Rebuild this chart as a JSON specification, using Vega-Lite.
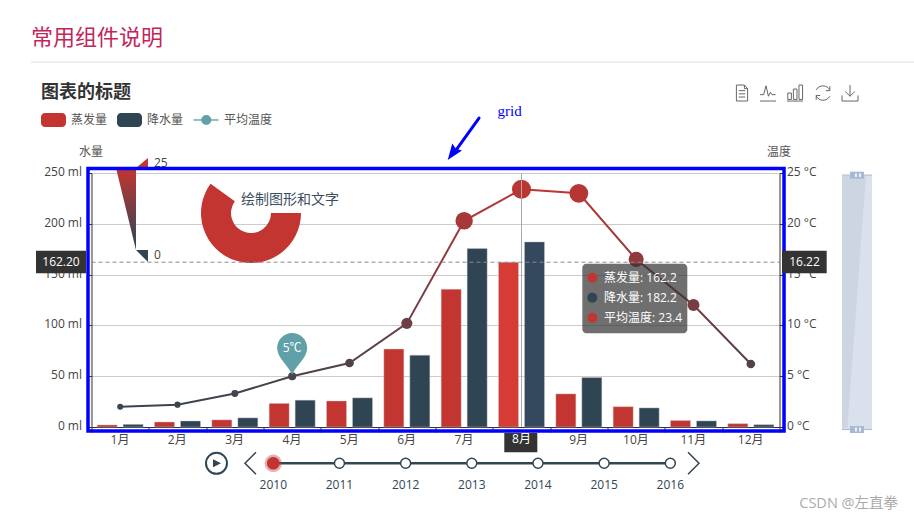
{
  "$schema": "https://vega.github.io/schema/vega-lite/v6.json",
  "autosize": {"type": "none"},
  "width": 688,
  "height": 254,
  "padding": {"left": 91.5, "top": 173, "right": 134.5, "bottom": 93},
  "background": "white",
  "config": {"font": "Open Sans, Noto Sans CJK SC", "view": {"stroke": null}},
  "datasets": {
    "water": [
      {"month": "1月", "series": "蒸发量", "value": 2.0}, {"month": "1月", "series": "降水量", "value": 2.6},
      {"month": "2月", "series": "蒸发量", "value": 4.9}, {"month": "2月", "series": "降水量", "value": 5.9},
      {"month": "3月", "series": "蒸发量", "value": 7.0}, {"month": "3月", "series": "降水量", "value": 9.0},
      {"month": "4月", "series": "蒸发量", "value": 23.2}, {"month": "4月", "series": "降水量", "value": 26.4},
      {"month": "5月", "series": "蒸发量", "value": 25.6}, {"month": "5月", "series": "降水量", "value": 28.7},
      {"month": "6月", "series": "蒸发量", "value": 76.7}, {"month": "6月", "series": "降水量", "value": 70.7},
      {"month": "7月", "series": "蒸发量", "value": 135.6}, {"month": "7月", "series": "降水量", "value": 175.6},
      {"month": "8月", "series": "蒸发量", "value": 162.2}, {"month": "8月", "series": "降水量", "value": 182.2},
      {"month": "9月", "series": "蒸发量", "value": 32.6}, {"month": "9月", "series": "降水量", "value": 48.7},
      {"month": "10月", "series": "蒸发量", "value": 20.0}, {"month": "10月", "series": "降水量", "value": 18.8},
      {"month": "11月", "series": "蒸发量", "value": 6.4}, {"month": "11月", "series": "降水量", "value": 6.0},
      {"month": "12月", "series": "蒸发量", "value": 3.3}, {"month": "12月", "series": "降水量", "value": 2.3}
    ],
    "temperature": [
      {"month": "1月", "temp": 2.0}, {"month": "2月", "temp": 2.2}, {"month": "3月", "temp": 3.3},
      {"month": "4月", "temp": 5.0}, {"month": "5月", "temp": 6.3}, {"month": "6月", "temp": 10.2},
      {"month": "7月", "temp": 20.3}, {"month": "8月", "temp": 23.4}, {"month": "9月", "temp": 23.0},
      {"month": "10月", "temp": 16.5}, {"month": "11月", "temp": 12.0}, {"month": "12月", "temp": 6.2}
    ],
    "years": [
      {"year": 2010}, {"year": 2011}, {"year": 2012}, {"year": 2013}, {"year": 2014}, {"year": 2015}, {"year": 2016}
    ]
  },
  "layer": [
    {
      "data": {"name": "water"},
      "mark": {"type": "bar", "stroke": "#ccc", "strokeOpacity": 0.6, "strokeWidth": 0.7},
      "encoding": {
        "x": {
          "field": "month", "type": "nominal", "sort": null,
          "scale": {"domain": ["1月", "2月", "3月", "4月", "5月", "6月", "7月", "8月", "9月", "10月", "11月", "12月"], "paddingInner": 0, "paddingOuter": 0},
          "axis": {"title": null, "labelAngle": 0, "labelFontSize": 12, "labelColor": "#444", "labelPadding": 2, "labelOffset": -0.7, "tickBand": "extent", "tickColor": "#333", "domainColor": "#333", "grid": false, "labelOverlap": false}
        },
        "xOffset": {"field": "series", "type": "nominal", "scale": {"domain": ["蒸发量", "降水量"], "paddingInner": 0.23, "paddingOuter": 0.218}},
        "y": {
          "field": "value", "type": "quantitative",
          "scale": {"domain": [0, 250], "nice": false},
          "axis": {
            "values": [0, 50, 100, 150, 200, 250], "labelExpr": "datum.label + ' ml'", "labelFontSize": 12, "labelColor": "#444", "labelPadding": 5, "labelOffset": -1.5,
            "grid": true, "gridColor": "#ccc", "tickColor": "#333", "domainColor": "#333",
            "title": "水量", "titleAngle": 0, "titleAlign": "center", "titleBaseline": "middle", "titleX": -1, "titleY": -22, "titleFontSize": 12, "titleFontWeight": "normal", "titleColor": "#555"
          }
        },
        "color": {
          "condition": [
            {"test": "datum.month === '8月' && datum.series === '蒸发量'", "value": "#d63b35"},
            {"test": "datum.month === '8月' && datum.series === '降水量'", "value": "#34495e"}
          ],
          "field": "series", "type": "nominal",
          "scale": {"domain": ["蒸发量", "降水量"], "range": ["#c23531", "#2f4554"]},
          "legend": null
        }
      }
    },
    {
      "data": {"name": "temperature"},
      "encoding": {
        "x": {"field": "month", "type": "nominal", "sort": null, "axis": null, "scale": {"domain": ["1月", "2月", "3月", "4月", "5月", "6月", "7月", "8月", "9月", "10月", "11月", "12月"], "paddingInner": 0, "paddingOuter": 0}},
        "y": {
          "field": "temp", "type": "quantitative",
          "scale": {"domain": [0, 25], "nice": false},
          "axis": {
            "orient": "right", "values": [0, 5, 10, 15, 20, 25], "labelExpr": "datum.label + ' °C'", "labelFontSize": 12, "labelColor": "#444", "labelPadding": 2, "labelOffset": -1.5,
            "grid": false, "tickColor": "#333", "domainColor": "#333",
            "title": "温度", "titleAngle": 0, "titleAlign": "center", "titleBaseline": "middle", "titleX": -1, "titleY": -22, "titleFontSize": 12, "titleFontWeight": "normal", "titleColor": "#555"
          }
        }
      },
      "layer": [
        {
          "mark": {
            "type": "line", "strokeWidth": 2,
            "color": {"gradient": "linear", "x1": 0, "y1": 1, "x2": 0, "y2": 0, "stops": [{"offset": 0, "color": "#3b4451"}, {"offset": 1, "color": "#b93634"}]}
          }
        },
        {
          "mark": {"type": "point", "filled": true, "opacity": 1},
          "encoding": {
            "color": {"field": "temp", "type": "quantitative", "scale": {"domain": [0, 25], "range": ["#2f4554", "#c23531"], "interpolate": "rgb"}, "legend": null},
            "size": {"field": "temp", "type": "quantitative", "scale": {"domain": [2, 6.3, 12, 23.4], "range": [36, 76, 144, 361]}, "legend": null}
          }
        }
      ]
    },
    {
      "encoding": {
        "x": {"field": "m", "type": "quantitative", "axis": null, "scale": {"domain": [0.5, 12.5], "nice": false, "zero": false}},
        "y": {"field": "ml", "type": "quantitative", "axis": null, "scale": {"domain": [0, 250], "nice": false, "zero": false}}
      },
      "layer": [
        {
          "data": {"values": [{"m": -0.555, "ml": 382.9, "t": "常用组件说明"}]},
          "mark": {"type": "text", "align": "left", "fontSize": 22, "color": "#c2255c"},
          "encoding": {"text": {"field": "t"}}
        },
        {
          "data": {"values": [{"m": -0.555, "m2": 14.846, "ml": 359.2}]},
          "mark": {"type": "rule", "color": "#ddd", "strokeWidth": 1},
          "encoding": {"x2": {"field": "m2"}}
        },
        {
          "data": {"values": [{"m": -0.381, "ml": 329.2, "t": "图表的标题"}]},
          "mark": {"type": "text", "align": "left", "fontSize": 18, "fontWeight": "bold", "color": "#333"},
          "encoding": {"text": {"field": "t"}}
        },
        {
          "data": {"values": [{"m": -0.381, "m2": 0.055, "ml": 309.1, "ml2": 295.3}]},
          "mark": {"type": "rect", "color": "#c23531", "cornerRadius": 4},
          "encoding": {"x2": {"field": "m2"}, "y2": {"field": "ml2"}}
        },
        {
          "data": {"values": [{"m": 0.945, "m2": 1.381, "ml": 309.1, "ml2": 295.3}]},
          "mark": {"type": "rect", "color": "#2f4554", "cornerRadius": 4},
          "encoding": {"x2": {"field": "m2"}, "y2": {"field": "ml2"}}
        },
        {
          "data": {"values": [{"m": 2.279, "m2": 2.715, "ml": 302.2}]},
          "mark": {"type": "rule", "color": "#61a0a8", "opacity": 0.7, "strokeWidth": 2},
          "encoding": {"x2": {"field": "m2"}}
        },
        {
          "data": {"values": [{"m": 2.502, "ml": 302.2}]},
          "mark": {"type": "point", "filled": true, "opacity": 1, "color": "#61a0a8", "size": 100}
        },
        {
          "data": {"values": [
            {"m": 0.142, "ml": 302.2, "t": "蒸发量"},
            {"m": 1.468, "ml": 302.2, "t": "降水量"},
            {"m": 2.811, "ml": 302.2, "t": "平均温度"}
          ]},
          "mark": {"type": "text", "align": "left", "fontSize": 12, "color": "#555"},
          "encoding": {"text": {"field": "t"}}
        },
        {
          "data": {"values": [
            {"icon": "dataview", "m": 11.846, "ml": 328.7},
            {"icon": "line", "m": 12.3, "ml": 328.7},
            {"icon": "bar", "m": 12.77, "ml": 328.7},
            {"icon": "restore", "m": 13.259, "ml": 328.7},
            {"icon": "save", "m": 13.73, "ml": 328.7}
          ]},
          "mark": {"type": "point", "filled": false, "opacity": 1, "stroke": "#666", "strokeWidth": 1, "size": 256},
          "encoding": {
            "shape": {
              "field": "icon", "type": "nominal", "legend": null,
              "scale": {
                "domain": ["dataview", "line", "bar", "restore", "save"],
                "range": [
                  "M-.7 -1H.3L.7 -.55V1H-.7Z M.3 -1V-.55H.7 M-.4 -.3H.4 M-.4 .1H.4 M-.4 .5H.4",
                  "M-1 .2H-.55L-.25 -.9L.05 .4L.3 -.1L.5 .2H.95 M-1 1H1",
                  "M-.9 0H-.45V.8H-.9Z M-.2 -.5H.25V.8H-.2Z M.5 -1H.95V.8H.5Z M-1 1H1",
                  "M.85 -.35A.95 .95 0 0 0 -.85 -.4 M-.85 .35A.95 .95 0 0 0 .85 .4 M.85 -.85V-.3H.35 M-.85 .85V.3H-.35",
                  "M0 -1V.4 M-.6 -.2L0 .4L.6 -.2 M-1 .3V1H1V.3"
                ]
              }
            }
          }
        },
        {
          "data": {"values": [{"m": 7.581, "ml": 311.0, "t": "grid"}]},
          "mark": {"type": "text", "align": "left", "font": "Liberation Serif", "fontSize": 15, "color": "#0000ff"},
          "encoding": {"text": {"field": "t"}}
        },
        {
          "data": {"values": [{"m": 7.259, "m2": 6.858, "ml": 304.1, "ml2": 272.6}]},
          "mark": {"type": "rule", "color": "#0000ff", "strokeWidth": 3, "strokeCap": "round"},
          "encoding": {"x2": {"field": "m2"}, "y2": {"field": "ml2"}}
        },
        {
          "data": {"values": [{"m": 6.795, "ml": 269.2}]},
          "mark": {"type": "point", "filled": true, "opacity": 1, "color": "#0000ff", "size": 256, "angle": 216, "shape": "M0 -1L.75 1L0 .75L-.75 1Z"}
        },
        {
          "data": {"values": [{"m": 3.282, "ml": 210.6}]},
          "mark": {"type": "arc", "innerRadius": 20, "outerRadius": 50, "theta": 1.5708, "theta2": 5.34, "color": "#c23531"}
        },
        {
          "data": {"values": [{"m": 3.108, "ml": 223.1, "t": "绘制图形和文字"}]},
          "mark": {"type": "text", "align": "left", "fontSize": 14, "color": "#3a4e5e"},
          "encoding": {"text": {"field": "t"}}
        },
        {
          "data": {"values": [
            {"m": 1.485, "m2": 1.485, "ml": 264.8},
            {"m": 1.276, "m2": 1.485, "ml": 254.95},
            {"m": 0.927, "m2": 1.276, "ml": 254.9},
            {"m": 1.276, "m2": 1.276, "ml": 174.25},
            {"m": 1.276, "m2": 1.485, "ml": 174.2},
            {"m": 1.485, "m2": 1.485, "ml": 162.4}
          ]},
          "mark": {
            "type": "area", "orient": "horizontal", "interpolate": "linear",
            "color": {"gradient": "linear", "x1": 0, "y1": 0, "x2": 0, "y2": 1, "stops": [{"offset": 0.1, "color": "#c23531"}, {"offset": 0.85, "color": "#2f4554"}]}
          },
          "encoding": {"x2": {"field": "m2"}}
        },
        {
          "data": {"values": [{"m": 1.59, "ml": 260.3, "t": "25"}, {"m": 1.59, "ml": 169.6, "t": "0"}]},
          "mark": {"type": "text", "align": "left", "fontSize": 12, "color": "#444"},
          "encoding": {"text": {"field": "t"}}
        },
        {
          "data": {"values": [{"m": 8, "ml": 0, "ml2": 250}]},
          "mark": {"type": "rule", "color": "#aaa", "strokeWidth": 1},
          "encoding": {"y2": {"field": "ml2"}}
        },
        {
          "data": {"values": [{"m": 0.5, "m2": 12.5, "ml": 162.2}]},
          "mark": {"type": "rule", "color": "#888", "strokeWidth": 1, "strokeDash": [4, 3]},
          "encoding": {"x2": {"field": "m2"}}
        },
        {
          "data": {"values": [{"m": 0.439, "m2": 12.579, "ml": 254.4, "ml2": -3.9}]},
          "mark": {"type": "rect", "filled": false, "stroke": "#0000ff", "strokeWidth": 3.5},
          "encoding": {"x2": {"field": "m2"}, "y2": {"field": "ml2"}}
        },
        {
          "data": {"values": [
            {"m": 7.7, "m2": 8.276, "ml": -5.9, "ml2": -24.9},
            {"m": -0.468, "m2": 0.404, "ml": 173.5, "ml2": 151.3},
            {"m": 12.544, "m2": 13.323, "ml": 173.5, "ml2": 151.3}
          ]},
          "mark": {"type": "rect", "color": "#333"},
          "encoding": {"x2": {"field": "m2"}, "y2": {"field": "ml2"}}
        },
        {
          "data": {"values": [
            {"m": 8, "ml": -12.1, "t": "8月"},
            {"m": -0.032, "ml": 162.4, "t": "162.20"},
            {"m": 12.936, "ml": 162.4, "t": "16.22"}
          ]},
          "mark": {"type": "text", "fontSize": 12, "color": "white"},
          "encoding": {"text": {"field": "t"}}
        },
        {
          "data": {"values": [{"m": 9.061, "m2": 10.892, "ml": 160.7, "ml2": 92.2}]},
          "mark": {"type": "rect", "color": "#323232", "fillOpacity": 0.7, "cornerRadius": 4},
          "encoding": {"x2": {"field": "m2"}, "y2": {"field": "ml2"}}
        },
        {
          "data": {"values": [
            {"m": 9.235, "ml": 146.9, "series": "蒸发量"},
            {"m": 9.235, "ml": 127.3, "series": "降水量"},
            {"m": 9.235, "ml": 107.6, "series": "平均温度"}
          ]},
          "mark": {"type": "point", "filled": true, "opacity": 1, "size": 100},
          "encoding": {"color": {"field": "series", "type": "nominal", "scale": {"domain": ["蒸发量", "降水量", "平均温度"], "range": ["#c23531", "#2f4554", "#c23531"]}, "legend": null}}
        },
        {
          "data": {"values": [
            {"m": 9.439, "ml": 146.4, "t": "蒸发量: 162.2"},
            {"m": 9.439, "ml": 126.8, "t": "降水量: 182.2"},
            {"m": 9.439, "ml": 107.1, "t": "平均温度: 23.4"}
          ]},
          "mark": {"type": "text", "align": "left", "fontSize": 12, "color": "white"},
          "encoding": {"text": {"field": "t"}}
        },
        {
          "data": {"values": [{"m": 4, "ml": 77.8}]},
          "mark": {"type": "point", "filled": true, "opacity": 1, "color": "#61a0a8", "size": 900, "shape": "M0 1.8C-.2 1.2 -1 .7 -1 0A1 1 0 1 1 1 0C1 .7 .2 1.2 0 1.8Z"}
        },
        {
          "data": {"values": [{"m": 4, "ml": 77.8, "t": "5℃"}]},
          "mark": {"type": "text", "fontSize": 12, "color": "white"},
          "encoding": {"text": {"field": "t"}}
        },
        {
          "data": {"values": [{"m": 13.59, "m2": 14.113, "ml": 248.0, "ml2": -2.5}]},
          "mark": {"type": "rect", "color": "#dbe1ec", "stroke": "#acb8d1", "strokeWidth": 0},
          "encoding": {"x2": {"field": "m2"}, "y2": {"field": "ml2"}}
        },
        {
          "data": {"values": [
            {"m": 13.59, "m2": 14.009, "ml": 247.0},
            {"m": 13.59, "m2": 13.683, "ml": -1.0}
          ]},
          "mark": {"type": "area", "orient": "horizontal", "color": "#cdd5e1"},
          "encoding": {"x2": {"field": "m2"}}
        },
        {
          "data": {"values": [
            {"m": 13.59, "m2": 14.113, "ml": 248.0},
            {"m": 13.59, "m2": 14.113, "ml": -2.5}
          ]},
          "mark": {"type": "rule", "color": "#acb8d1", "strokeWidth": 1},
          "encoding": {"x2": {"field": "m2"}}
        },
        {
          "data": {"values": [
            {"m": 13.73, "m2": 13.974, "ml": 251.3, "ml2": 244.4},
            {"m": 13.73, "m2": 13.974, "ml": 1.0, "ml2": -5.9}
          ]},
          "mark": {"type": "rect", "color": "#a7b9d3"},
          "encoding": {"x2": {"field": "m2"}, "y2": {"field": "ml2"}}
        },
        {
          "data": {"values": [
            {"m": 13.82, "m2": 13.847, "ml": 249.5, "ml2": 246.1},
            {"m": 13.89, "m2": 13.917, "ml": 249.5, "ml2": 246.1},
            {"m": 13.82, "m2": 13.847, "ml": -0.5, "ml2": -4.4},
            {"m": 13.89, "m2": 13.917, "ml": -0.5, "ml2": -4.4}
          ]},
          "mark": {"type": "rect", "color": "white"},
          "encoding": {"x2": {"field": "m2"}, "y2": {"field": "ml2"}}
        },
        {
          "data": {"values": [{"m": 2.68, "ml": -35.7}]},
          "mark": {"type": "point", "filled": false, "opacity": 1, "stroke": "#304654", "strokeWidth": 2, "size": 441}
        },
        {
          "data": {"values": [{"m": 2.68, "ml": -35.7}]},
          "mark": {"type": "point", "filled": true, "opacity": 1, "color": "#304654", "size": 100, "shape": "M-.7 -.8L.9 0L-.7 .8Z"}
        },
        {
          "data": {"values": [{"m": 3.273, "ml": -35.7}]},
          "mark": {"type": "point", "filled": false, "opacity": 1, "stroke": "#304654", "strokeWidth": 1.5, "size": 121, "shape": "M1 -2L-1 0L1 2"}
        },
        {
          "data": {"values": [{"m": 11.0, "ml": -35.7}]},
          "mark": {"type": "point", "filled": false, "opacity": 1, "stroke": "#304654", "strokeWidth": 1.5, "size": 121, "shape": "M-1 -2L1 0L-1 2"}
        },
        {
          "data": {"values": [{"m": 12.845, "ml": -75.8, "t": "CSDN @左直拳"}]},
          "mark": {"type": "text", "align": "left", "fontSize": 14.5, "color": "#aaa"},
          "encoding": {"text": {"field": "t"}}
        }
      ]
    },
    {
      "data": {"name": "years"},
      "encoding": {
        "x": {"field": "year", "type": "quantitative", "axis": null, "scale": {"domain": [2007.253, 2017.65], "nice": false, "zero": false}},
        "y": {"datum": -35.7, "type": "quantitative", "axis": null, "scale": {"domain": [0, 250], "nice": false, "zero": false}}
      },
      "layer": [
        {"mark": {"type": "line", "color": "#304654", "strokeWidth": 2.5}},
        {"mark": {"type": "point", "filled": true, "opacity": 1, "fill": "white", "stroke": "#304654", "strokeWidth": 1.5, "size": 100}},
        {
          "transform": [{"filter": "datum.year === 2010"}],
          "mark": {"type": "point", "filled": true, "opacity": 0.4, "color": "#c23531", "size": 300}
        },
        {
          "transform": [{"filter": "datum.year === 2010"}],
          "mark": {"type": "point", "filled": true, "opacity": 1, "color": "#c23531", "size": 160}
        },
        {
          "mark": {"type": "text", "fontSize": 12, "color": "#304654"},
          "encoding": {
            "y": {"datum": -57.2, "type": "quantitative"},
            "text": {"field": "year", "type": "nominal"}
          }
        }
      ]
    }
  ],
  "resolve": {
    "scale": {"x": "independent", "y": "independent", "color": "independent", "size": "independent", "shape": "independent"},
    "axis": {"x": "independent", "y": "independent"}
  }
}
